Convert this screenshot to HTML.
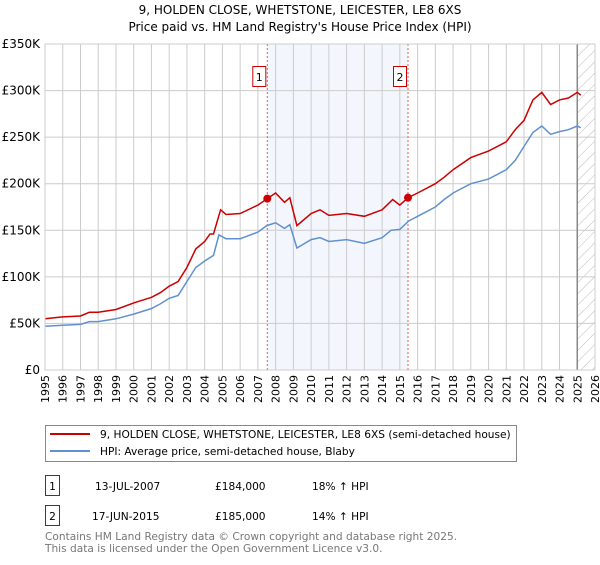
<!DOCTYPE html>
<html><head><meta charset="utf-8"><style>
body{margin:0;background:#fff;}
svg text{font-family:"DejaVu Sans","Liberation Sans",sans-serif;}
</style></head><body>
<svg id="chart" width="600" height="560" viewBox="0 0 600 560" xmlns="http://www.w3.org/2000/svg">
<defs><pattern id="hatch" width="8" height="8" patternUnits="userSpaceOnUse" patternTransform="rotate(45)"><line x1="0" y1="0" x2="0" y2="8" stroke="#bbb" stroke-width="1"/></pattern></defs>
<text x="300" y="14" text-anchor="middle" font-size="12">9, HOLDEN CLOSE, WHETSTONE, LEICESTER, LE8 6XS</text>
<text x="300" y="31" text-anchor="middle" font-size="12">Price paid vs. HM Land Registry's House Price Index (HPI)</text>
<g id="plot"></g>
<g>
<rect x="45.5" y="425.5" width="471" height="36" fill="#fff" stroke="#888"/>
<line x1="50" y1="434" x2="90" y2="434" stroke="#cc0000" stroke-width="2"/>
<text x="100" y="438" font-size="10.6">9, HOLDEN CLOSE, WHETSTONE, LEICESTER, LE8 6XS (semi-detached house)</text>
<line x1="50" y1="451" x2="90" y2="451" stroke="#6090d0" stroke-width="2"/>
<text x="100" y="455" font-size="10.6">HPI: Average price, semi-detached house, Blaby</text>
</g>
<g>
<rect x="45.5" y="475.5" width="14" height="20" fill="#fff" stroke="#cc0000"/>
<text x="52.5" y="490" font-size="10.6" text-anchor="middle">1</text>
<text x="95" y="490" font-size="10.6">13-JUL-2007</text>
<text x="215" y="490" font-size="10.6">£184,000</text>
<text x="312" y="490" font-size="10.6">18% ↑ HPI</text>
</g>
<g>
<rect x="45.5" y="505.5" width="14" height="20" fill="#fff" stroke="#cc0000"/>
<text x="52.5" y="520" font-size="10.6" text-anchor="middle">2</text>
<text x="92" y="520" font-size="10.6">17-JUN-2015</text>
<text x="215" y="520" font-size="10.6">£185,000</text>
<text x="312" y="520" font-size="10.6">14% ↑ HPI</text>
</g>
<text x="45" y="540" font-size="10.6" fill="#777">Contains HM Land Registry data © Crown copyright and database right 2025.</text>
<text x="45" y="552" font-size="10.6" fill="#777">This data is licensed under the Open Government Licence v3.0.</text>
</svg>
<script>
const hpiYears=[1995,1996,1997,1997.5,1998,1999,2000,2001,2001.5,2002,2002.5,2003,2003.5,2004,2004.5,2004.8,2005.2,2006,2007,2007.5,2008,2008.5,2008.8,2009.2,2010,2010.5,2011,2012,2013,2014,2014.5,2015,2015.5,2016,2017,2017.5,2018,2019,2020,2021,2021.5,2022,2022.5,2023,2023.5,2024,2024.5,2025,2025.2];
const hpiValues=[47,48,49,52,52,55,60,66,71,77,80,95,110,117,123,145,141,141,148,155,158,152,156,131,140,142,138,140,136,142,150,151,160,165,175,183,190,200,205,215,225,240,255,262,253,256,258,262,260];
const paidYears=[1995,1996,1997,1997.5,1998,1999,2000,2001,2001.5,2002,2002.5,2003,2003.5,2004,2004.3,2004.5,2004.9,2005.2,2006,2007,2007.53,2008,2008.5,2008.8,2009.2,2010,2010.5,2011,2012,2013,2014,2014.6,2015,2015.46,2016,2017,2017.5,2018,2019,2020,2021,2021.5,2022,2022.5,2023,2023.5,2024,2024.5,2025,2025.2];
const paidValues=[55,57,58,62,62,65,72,78,83,90,95,110,130,138,146,146,172,167,168,177,184,190,180,185,155,168,172,166,168,165,172,183,177,185,190,200,207,215,228,235,245,258,268,290,298,285,290,292,298,295];
const saleYears=[2007.53,2015.46];
const saleValues=[184,185];
const saleLabels=["1","2"];
const yTicks=[0,50,100,150,200,250,300,350];
const yTickLabels=["£0","£50K","£100K","£150K","£200K","£250K","£300K","£350K"];
const xTicks=[];for(let y=1995;y<=2026;y++)xTicks.push(y);

const X0=45,X1=595,Y0=370,Y1=44;
const xs=y=>X0+(y-1995)/(2026-1995)*(X1-X0);
const ys=v=>Y0-v/350*(Y0-Y1);
const NS="http://www.w3.org/2000/svg";
const plot=document.getElementById('plot');
function mk(tag,attrs,parent){const e=document.createElementNS(NS,tag);for(const k in attrs)e.setAttribute(k,attrs[k]);(parent||plot).appendChild(e);return e;}

const shade=mk('rect',{x:xs(saleYears[0]),y:Y1,width:xs(saleYears[1])-xs(saleYears[0]),height:Y0-Y1,fill:'#eef3fc',opacity:0.7});


const hatch=mk('rect',{x:xs(2025),y:Y1,width:X1-xs(2025),height:Y0-Y1,fill:'url(#hatch)'});



xTicks.forEach(t=>{
  const l=mk('line',{x1:xs(t),x2:xs(t),y1:Y1,y2:Y0,stroke:'#ccc','stroke-width':1});
  
  
  const tx=mk('text',{x:0,y:0,'font-size':11,'text-anchor':'end',transform:`translate(${xs(t)+4},${Y0+5}) rotate(-90)`});
  tx.textContent=t;
  
  
});
yTicks.forEach((t,i)=>{
  const l=mk('line',{x1:X0,x2:X1,y1:ys(t),y2:ys(t),stroke:'#ccc','stroke-width':1});
  
  
  const tx=mk('text',{x:X0-5,y:ys(t)+4,'font-size':12,'text-anchor':'end'});
  tx.textContent=yTickLabels[i];
  
  
});
const nowLine=mk('line',{x1:xs(2025),x2:xs(2025),y1:Y1,y2:Y0,stroke:'#888','stroke-width':1.5});



saleYears.forEach((y,i)=>{
  const l=mk('line',{x1:xs(y),x2:xs(y),y1:Y1,y2:Y0,stroke:'#e06060','stroke-width':1,'stroke-dasharray':'2,2'});
  
  
  const r=mk('rect',{x:xs(y)-14.5,y:66.5,width:13,height:20,fill:'#fff',stroke:'#cc0000'});
  
  
  const t=mk('text',{x:xs(y)-8,y:81,'font-size':11,'text-anchor':'middle'});
  t.textContent=saleLabels[i];
  
  
});

function path(xsA,vs){return xsA.map((y,i)=>(i?'L':'M')+xs(y).toFixed(1)+','+ys(vs[i]).toFixed(1)).join('');}
const hpi=mk('path',{d:path(hpiYears,hpiValues),fill:'none',stroke:'#6090d0','stroke-width':1.5});


const paid=mk('path',{d:path(paidYears,paidValues),fill:'none',stroke:'#cc0000','stroke-width':1.5});


saleYears.forEach((y,i)=>{
  const c=mk('circle',{cx:xs(y),cy:ys(saleValues[i]),r:4,fill:'#cc0000'});
  
  
});
const frame=mk('rect',{x:X0,y:Y1,width:X1-X0,height:Y0-Y1,fill:'none',stroke:'#ccc'});


</script>
</body></html>
